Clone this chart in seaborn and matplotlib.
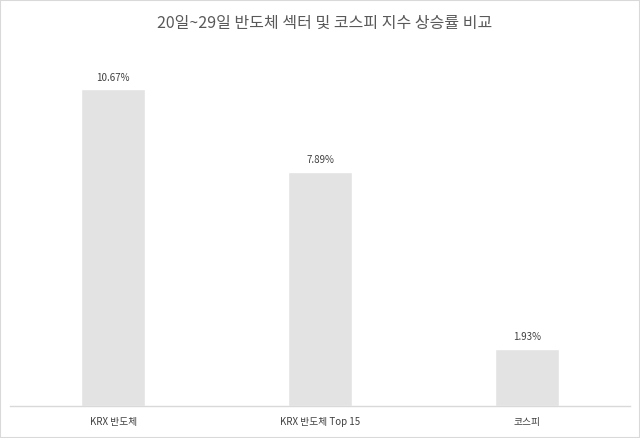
import matplotlib
matplotlib.use("Agg")
import matplotlib.pyplot as plt
import seaborn as sns
import pandas as pd

categories = ["KRX 반도체", "KRX 반도체 Top 15", "코스피"]
returns = [10.67, 7.89, 1.93]
value_labels = ["10.67%", "7.89%", "1.93%"]
title = "20일~29일 반도체 섹터 및 코스피 지수 상승률 비교"

sns.set_style("white")
plt.rcParams['font.family'] = ['Noto Sans CJK KR', 'DejaVu Sans']

df = pd.DataFrame({"category": categories, "value": returns})

fig = plt.figure(figsize=(6.4, 4.38), dpi=100)
ax = fig.add_axes([10 / 640, 32 / 438, 620 / 640, 356 / 438])

sns.barplot(data=df, x="category", y="value", color="#e3e3e3", width=0.31,
            saturation=1, ax=ax)

ax.set_ylim(0, 12)
ax.set_xlim(-0.5, 2.5)
ax.set_xlabel("")
ax.set_ylabel("")
ax.set_yticks([])
ax.tick_params(axis="x", length=0, labelsize=7, labelcolor="#404040", pad=8)
for side in ["top", "left", "right"]:
    ax.spines[side].set_visible(False)
ax.spines["bottom"].set_color("#d9d9d9")
ax.spines["bottom"].set_linewidth(1)

for bar, lab in zip(ax.patches, value_labels):
    ax.annotate(lab, (bar.get_x() + bar.get_width() / 2, bar.get_height()),
                xytext=(0, 5), textcoords="offset points",
                ha="center", va="bottom", fontsize=7, color="#404040")

fig.text(0.5 + 5 / 640, 1 - 23 / 438, title, ha="center", va="center",
         fontsize=11.5, color="#595959")

fig.patches.append(plt.Rectangle((0, 0), 1, 1, transform=fig.transFigure,
                                 fill=False, edgecolor="#d9d9d9", linewidth=1.5))

fig.savefig("out.png", dpi=100)
